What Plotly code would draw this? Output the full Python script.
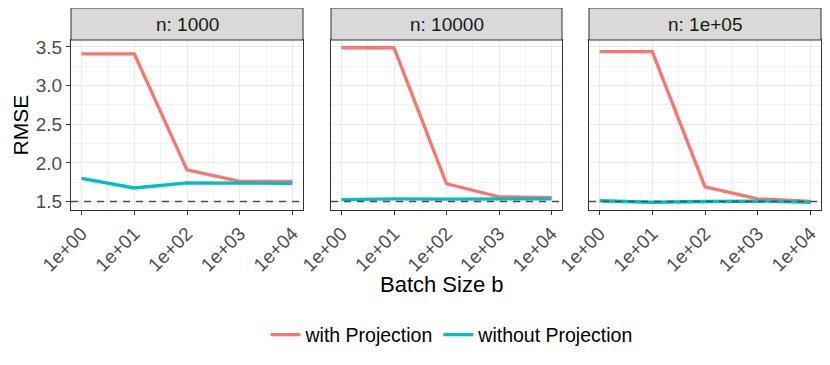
import plotly.graph_objects as go

# data
batch_sizes = [1, 10, 100, 1000, 10000]
batch_labels = ["1e+00", "1e+01", "1e+02", "1e+03", "1e+04"]
panel_titles = ["n: 1000", "n: 10000", "n: 1e+05"]

with_proj = [
    [3.41, 3.41, 1.91, 1.76, 1.76],
    [3.49, 3.49, 1.73, 1.56, 1.55],
    [3.44, 3.44, 1.69, 1.535, 1.50],
]
without_proj = [
    [1.80, 1.675, 1.74, 1.74, 1.735],
    [1.525, 1.535, 1.53, 1.53, 1.535],
    [1.51, 1.49, 1.50, 1.505, 1.49],
]
reference_rmse = 1.5

RED = "#F8766D"
CYAN = "#00BFC4"
W, H = 830, 365
FONT = "Liberation Sans, Arial, sans-serif"
OFF = 8  # page body margin

panels_px = [(71, 303), (331, 562), (589, 821)]
panel_top, panel_bot = 40, 210
strip_top = 8


def px_x(p):
    return (p - OFF) / W


def px_y(p):
    return 1 - (p - OFF) / H


fig = go.Figure()

for i in range(3):
    ax = "" if i == 0 else str(i + 1)
    fig.add_trace(go.Scatter(
        x=batch_sizes, y=with_proj[i], mode="lines",
        line=dict(color=RED, width=3.3), name="with Projection",
        legendgroup="with", showlegend=(i == 0),
        xaxis="x" + ax, yaxis="y" + ax,
    ))
    fig.add_trace(go.Scatter(
        x=batch_sizes, y=without_proj[i], mode="lines",
        line=dict(color=CYAN, width=3.3), name="without Projection",
        legendgroup="without", showlegend=(i == 0),
        xaxis="x" + ax, yaxis="y" + ax,
    ))

    x0, x1 = panels_px[i]
    xdom = [px_x(x0), px_x(x1)]
    ydom = [px_y(panel_bot), px_y(panel_top)]

    fig.layout["xaxis" + ax] = dict(
        domain=xdom, anchor="y" + ax, type="log", range=[-0.2, 4.2],
        tickmode="array", tickvals=batch_sizes, ticktext=batch_labels,
        tickangle=-45, ticks="outside", ticklen=4, tickcolor="#333333",
        tickfont=dict(size=19, color="#4D4D4D", family=FONT),
        showgrid=True, gridcolor="#EBEBEB", gridwidth=1,
        minor=dict(tickmode="array", tickvals=[10 ** (k + 0.5) for k in range(4)],
                   showgrid=True, gridcolor="#F2F2F2", gridwidth=0.6, ticks=""),
        showline=True, linecolor="#333333", linewidth=1, mirror=True,
        zeroline=False, automargin=False,
    )
    fig.layout["yaxis" + ax] = dict(
        domain=ydom, anchor="x" + ax, range=[1.39, 3.59],
        tickmode="array", tickvals=[1.5, 2.0, 2.5, 3.0, 3.5],
        ticktext=["1.5", "2.0", "2.5", "3.0", "3.5"],
        showticklabels=(i == 0), ticks="outside" if i == 0 else "",
        ticklen=4, tickcolor="#333333",
        tickfont=dict(size=19, color="#4D4D4D", family=FONT),
        showgrid=True, gridcolor="#EBEBEB", gridwidth=1,
        minor=dict(tickmode="array", tickvals=[1.75, 2.25, 2.75, 3.25],
                   showgrid=True, gridcolor="#F2F2F2", gridwidth=0.6, ticks=""),
        showline=True, linecolor="#333333", linewidth=1, mirror=True,
        zeroline=False, automargin=False,
    )

    # dashed reference line
    fig.add_shape(type="line", xref="x" + ax + " domain", yref="y" + ax,
                  x0=0, x1=1, y0=reference_rmse, y1=reference_rmse,
                  line=dict(color="#4D4D4D", width=1.4, dash="7px,6px"))
    # strip
    fig.add_shape(type="rect", xref="paper", yref="paper",
                  x0=xdom[0], x1=xdom[1], y0=px_y(panel_top), y1=px_y(strip_top),
                  fillcolor="#D9D9D9", line=dict(color="#333333", width=1))
    fig.add_annotation(x=(xdom[0] + xdom[1]) / 2, y=(px_y(panel_top) + px_y(strip_top)) / 2,
                       xref="paper", yref="paper", text=panel_titles[i], showarrow=False,
                       xanchor="center", yanchor="middle",
                       font=dict(size=19, color="#1A1A1A", family=FONT))

fig.add_annotation(x=0, y=(px_y(panel_top) + px_y(panel_bot)) / 2,
                   xref="paper", yref="paper", text="RMSE", textangle=-90,
                   xanchor="left", yanchor="middle", borderpad=0,
                   showarrow=False, font=dict(size=21, color="black", family=FONT))
fig.add_annotation(x=px_x(442), y=px_y(284), xref="paper", yref="paper",
                   text="Batch Size b", showarrow=False,
                   xanchor="center", yanchor="middle",
                   font=dict(size=22, color="black", family=FONT))

fig.update_layout(
    width=W, height=H, margin=dict(l=0, r=0, t=0, b=0, autoexpand=False),
    plot_bgcolor="white", paper_bgcolor="white",
    font=dict(family=FONT),
    legend=dict(orientation="h", x=px_x(452), xanchor="center", y=px_y(335), yanchor="middle",
                font=dict(size=19.5, color="black", family=FONT),
                itemwidth=30, bgcolor="rgba(0,0,0,0)"),
)

fig.write_html("out.html")
